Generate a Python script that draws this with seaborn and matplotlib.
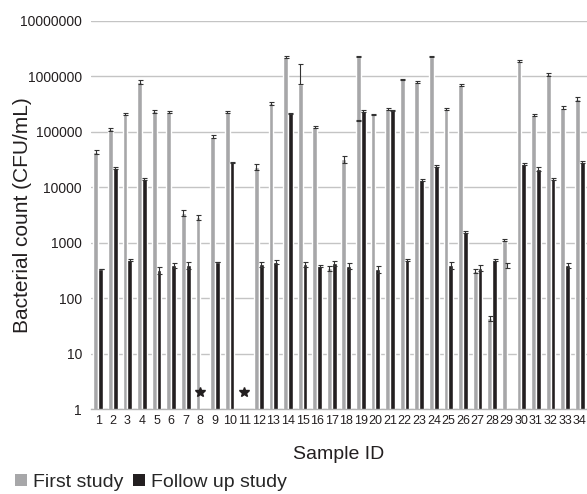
import numpy as np
import pandas as pd
import matplotlib
matplotlib.use('Agg')
import matplotlib.pyplot as plt
import seaborn as sns
from matplotlib.patches import Patch

nan = np.nan

samples = [str(i) for i in range(1, 35)]
studies = ['First study', 'Follow up study']

first_study = [43000, 110000, 208000, 785000, 236000, 226000, 3400, 2860, 81000, 229000,
               nan, 23300, 325000, 2190000, 720000, 121000, 344, 32100, 2245000, 206000,
               259000, 879000, 796000, 2245000, 259000, 703000, 308, 43, 1110, 1880000,
               200000, 1080000, 270000, 388000]
first_err = [3000, 6000, 12000, 60000, 15000, 10000, 400, 250, 5000, 8000,
             nan, 2500, 25000, 80000, 0, 5000, 30, 4500, 60000, 6000,
             10000, 30000, 40000, 60000, 10000, 30000, 30, 4, 60, 100000,
             12000, 60000, 15000, 30000]
# sample 15 has an upward-only error bar
first_err_up = {'15': 950000}

follow_up = [334, 22400, 486, 14000, 320, 395, 395, nan, 447, 28000,
             nan, 411, 453, 214000, 411, 378, 423, 378, 236000, 334,
             243000, 486, 13400, 24000, 395, 1530, 352, 486, nan, 26100,
             21200, 14000, 395, 28700]
follow_err = [0, 800, 15, 800, 50, 40, 60, nan, 0, 1000,
              nan, 40, 35, 5000, 40, 10, 50, 50, 8000, 50,
              8000, 15, 500, 1000, 60, 60, 40, 20, nan, 1000,
              2000, 800, 40, 1500]

# stray error-bar marks without a bar
extra_sample = ['29', '19']
extra_value = [383, 158000]
extra_err = [40, 1500]

# samples below detection limit (star)
below_limit = ['8', '11']
star_value = 2

yticks = [1, 10, 100, 1000, 10000, 100000, 1000000, 10000000]
ytick_labels = ['1', '10', '100', '1000', '10000', '100000', '1000000', '10000000']

colors = ['#a7a7a9', '#231f20']

df = pd.DataFrame({
    'sample': samples * 2,
    'study': [studies[0]] * 34 + [studies[1]] * 34,
    'count': first_study + follow_up,
}).dropna()

sns.set_style('white')
plt.rcParams['font.family'] = ['Liberation Sans', 'DejaVu Sans']

fig = plt.figure(figsize=(5.87, 4.94), dpi=100)
ax = fig.add_axes([0.155, 0.172, 0.845, 0.786])

width = 0.66
sns.barplot(data=df, x='sample', y='count', hue='study', order=samples, hue_order=studies,
            palette=colors, width=width, errorbar=None, saturation=1, legend=False, ax=ax,
            zorder=2)
ax.set_yscale('log')
ax.set_ylim(1, 10000000)
ax.set_xlim(-0.5, 33.5)

pos = np.arange(len(samples))
off = width / 4
err_kw = dict(fmt='none', ecolor='#333333', elinewidth=0.8, capsize=1.8, capthick=0.8, zorder=3)

lo = [e for e in first_err]
hi = [first_err_up.get(s, e) for s, e in zip(samples, first_err)]
ax.errorbar(pos - off, first_study, yerr=[lo, hi], **err_kw)
ax.errorbar(pos + off, follow_up, yerr=follow_err, **err_kw)
ax.errorbar([samples.index(s) - off * (1 if s == '19' else 0) for s in extra_sample],
            extra_value, yerr=extra_err, **err_kw)

ax.plot([samples.index(s) for s in below_limit], [star_value] * len(below_limit),
        linestyle='none', marker='*', markersize=7, color='#231f20', zorder=4)

ax.set_yticks(yticks)
ax.set_yticklabels(ytick_labels)
ax.yaxis.set_minor_locator(matplotlib.ticker.NullLocator())
ax.grid(axis='y', color='#c4c4c4', linewidth=1.0, zorder=0)
ax.set_axisbelow(True)
for s in ['top', 'right', 'left']:
    ax.spines[s].set_visible(False)
ax.spines['bottom'].set_color('#b4b4b4')
ax.spines['bottom'].set_linewidth(1.0)

ax.tick_params(axis='y', labelsize=10, length=5, width=1, color='#c4c4c4', pad=1.5,
               labelcolor='#231f20')
ax.tick_params(axis='x', labelsize=9, length=0, pad=4, labelcolor='#231f20')

ax.set_xlabel('Sample ID', fontsize=14, color='#231f20')
ax.xaxis.set_label_coords(0.5, -0.095)
ax.set_ylabel('Bacterial count (CFU/mL)', fontsize=15, color='#231f20')
ax.yaxis.set_label_coords(-0.118, 0.5)

handles = [Patch(facecolor=c, edgecolor='none') for c in colors]
fig.legend(handles, studies, loc='center left', bbox_to_anchor=(0.025, 0.024), ncol=2,
           frameon=False, fontsize=14, handlelength=0.62, handleheight=0.62,
           handletextpad=0.3, columnspacing=0.5, borderpad=0, borderaxespad=0)

fig.savefig('out.png', dpi=100)
